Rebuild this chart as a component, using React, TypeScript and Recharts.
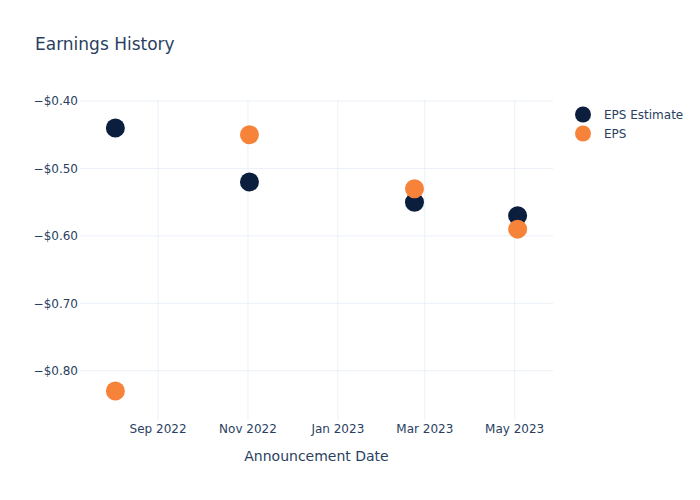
import React from 'react';
import { CartesianGrid, Scatter, ScatterChart, XAxis, YAxis } from 'recharts';

const announcementDates = ['2022-08-03', '2022-11-02', '2023-02-22', '2023-05-03'];
const epsEstimate = [-0.44, -0.52, -0.55, -0.57];
const epsActual = [-0.83, -0.45, -0.53, -0.59];

const xTickDates = ['2022-09-01', '2022-11-01', '2023-01-01', '2023-03-01', '2023-05-01'];
const yTicks = [-0.8, -0.7, -0.6, -0.5, -0.4];

const NAVY = '#0b1e3e';
const ORANGE = '#f7833a';
const TEXT = '#2a3f5f';
const FONT = '"DejaVu Sans", Verdana, sans-serif';
const MONTHS = ['Jan', 'Feb', 'Mar', 'Apr', 'May', 'Jun', 'Jul', 'Aug', 'Sep', 'Oct', 'Nov', 'Dec'];

const ts = (d: string) => Date.parse(d + 'T00:00:00Z');

const estimateData = announcementDates.map((d, i) => ({ date: ts(d), value: epsEstimate[i] }));
const epsData = announcementDates.map((d, i) => ({ date: ts(d), value: epsActual[i] }));

const fmtDate = (v: number) => {
  const d = new Date(v);
  return `${MONTHS[d.getUTCMonth()]} ${d.getUTCFullYear()}`;
};
const fmtMoney = (v: number) => (v < 0 ? '\u2212' : '') + '$' + Math.abs(v).toFixed(2);

const Dot = (color: string) => (props: any) => (
  <circle cx={props.cx} cy={props.cy} r={9.5} fill={color} />
);

const legendItems = [
  { name: 'EPS Estimate', color: NAVY },
  { name: 'EPS', color: ORANGE },
];

export default function App() {
  return (
    <div style={{ position: 'absolute', left: 0, top: 0, width: 700, height: 500, background: '#fff' }}>
      <div
        style={{
          position: 'absolute',
          left: 35,
          top: 34,
          fontFamily: FONT,
          fontSize: 17,
          color: TEXT,
          whiteSpace: 'nowrap',
        }}
      >
        Earnings History
      </div>
      <div
        style={{ position: 'absolute', left: 575, top: 105, fontFamily: FONT, fontSize: 12, color: TEXT }}
      >
        {legendItems.map((it) => (
          <div key={it.name} style={{ display: 'flex', alignItems: 'center', height: 19 }}>
            <svg width={20} height={19}>
              <circle cx={8} cy={9.5} r={8} fill={it.color} />
            </svg>
            <span style={{ marginLeft: 9, whiteSpace: 'nowrap' }}>{it.name}</span>
          </div>
        ))}
      </div>
      <ScatterChart width={700} height={500} margin={{ top: 100, right: 147, bottom: 0, left: 0 }}>
        <CartesianGrid stroke="#ebf0f8" strokeWidth={1} syncWithTicks />
        <XAxis
          type="number"
          dataKey="date"
          domain={[ts('2022-07-10'), ts('2023-05-27')]}
          ticks={xTickDates.map(ts)}
          tickFormatter={fmtDate}
          axisLine={false}
          tickLine={false}
          tickSize={0}
          tickMargin={4}
          height={80}
          tick={{ fill: TEXT, fontSize: 12, fontFamily: FONT }}
          label={{
            value: 'Announcement Date',
            position: 'insideTop',
            offset: 31,
            fill: TEXT,
            fontSize: 14,
            fontFamily: FONT,
          }}
          allowDataOverflow
        />
        <YAxis
          type="number"
          dataKey="value"
          domain={[-0.873, -0.3985]}
          ticks={yTicks}
          tickFormatter={fmtMoney}
          axisLine={false}
          tickLine={false}
          tickSize={0}
          tickMargin={2}
          width={80}
          tick={{ fill: TEXT, fontSize: 12, fontFamily: FONT }}
          allowDataOverflow
        />
        <Scatter
          name="EPS Estimate"
          data={estimateData}
          fill={NAVY}
          shape={Dot(NAVY)}
          isAnimationActive={false}
        />
        <Scatter name="EPS" data={epsData} fill={ORANGE} shape={Dot(ORANGE)} isAnimationActive={false} />
      </ScatterChart>
    </div>
  );
}
